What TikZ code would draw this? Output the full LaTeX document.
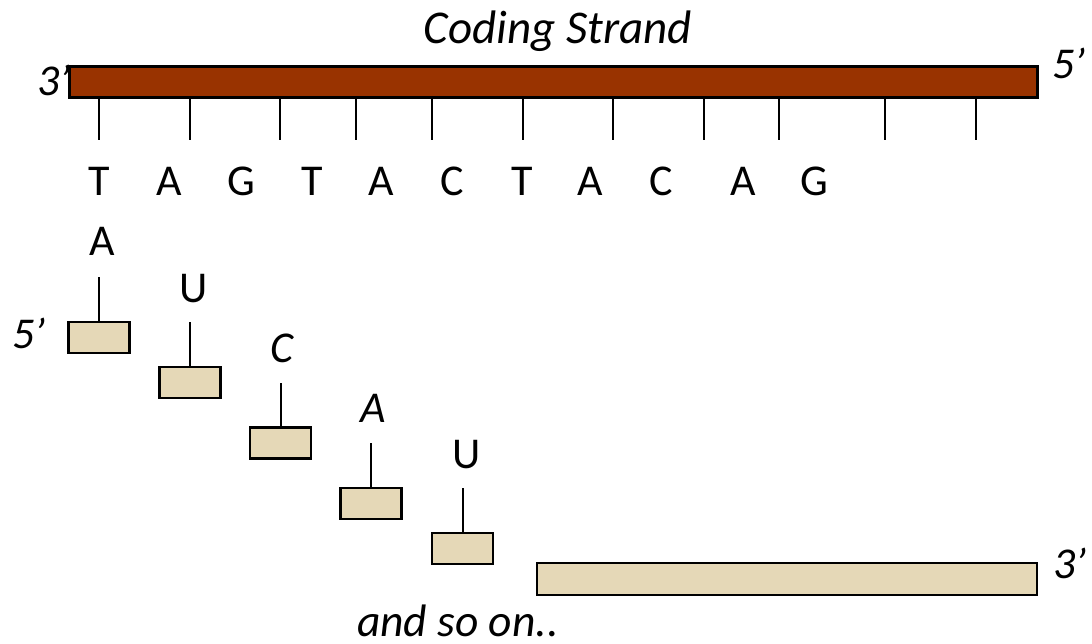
\documentclass[tikz,border=0pt]{standalone}
\usepackage{fontspec}
\setmainfont{Carlito}
\definecolor{dnared}{HTML}{993300}
\definecolor{rnafill}{HTML}{E5D8B7}
\begin{document}
\begin{tikzpicture}[x=1pt,y=-1pt,
  lbl/.style={inner sep=0pt, font=\fontsize{44}{50}\selectfont, anchor=base},
  ilbl/.style={inner sep=0pt, font=\fontsize{44}{50}\selectfont\itshape, anchor=base},
  tickline/.style={line width=2pt},
  dnabar/.style={draw=black, line width=3pt, fill=dnared, inner sep=0pt},
  rnabox/.style={draw=black, line width=2.6pt, fill=rnafill, inner sep=0pt, minimum width=61pt, minimum height=31pt}]
\useasboundingbox (0,0) rectangle (1092,643);
% coding strand
\node[dnabar, minimum width=968pt, minimum height=31pt, anchor=north west] (bar) at (68,65) {};
\node[ilbl, font=\fontsize{47}{52}\selectfont\itshape] (title) at (558,43) {Coding Strand};
\node[ilbl, anchor=base west] (l3) at (37,95) {3’};
\node[ilbl, anchor=base west] (r5) at (1052,78) {5’};
\foreach \x [count=\i] in {99,190,280,356,432,523,613,704,779,885,976}{
  \coordinate (t\i) at (\x,140);
  \draw[tickline] (bar.south -| t\i) -- (t\i);
}
\foreach \x/\c [count=\i] in {99/T,169/A,241/G,312/T,381/A,452/C,522/T,590/A,661/C,743/A,814/G}{
  \node[lbl] (b\i) at (\x,195) {\c};
}
% mRNA
\node[rnabox] (m1) at (99,337.5) {};
\node[rnabox] (m2) at (190,382.5) {};
\node[rnabox] (m3) at (280.5,443) {};
\node[rnabox] (m4) at (371,503.5) {};
\node[rnabox] (m5) at (462.5,548.5) {};
\coordinate (s1) at (99,277);
\coordinate (s2) at (190,322);
\coordinate (s3) at (280.5,383);
\coordinate (s4) at (371,443);
\coordinate (s5) at (462.5,488);
\foreach \i in {1,...,5}{\draw[tickline] (m\i.north) -- (s\i);}
\node[lbl] (n1) at (102,255) {A};
\node[lbl] (n2) at (194,302) {U};
\node[ilbl] (n3) at (282,362) {C};
\node[ilbl] (n4) at (373,422) {A};
\node[lbl] (n5) at (467,468) {U};
\node[ilbl, anchor=base west] (l5) at (12,348) {5’};
\node[rnabox, minimum width=500pt, minimum height=32pt] (long) at (787,579) {};
\node[ilbl, anchor=base west] (r3) at (1053,578) {3’};
\node[ilbl, anchor=base west, font=\fontsize{45.5}{50}\selectfont\itshape] (more) at (357,636) {and so on..};
\end{tikzpicture}
\end{document}
